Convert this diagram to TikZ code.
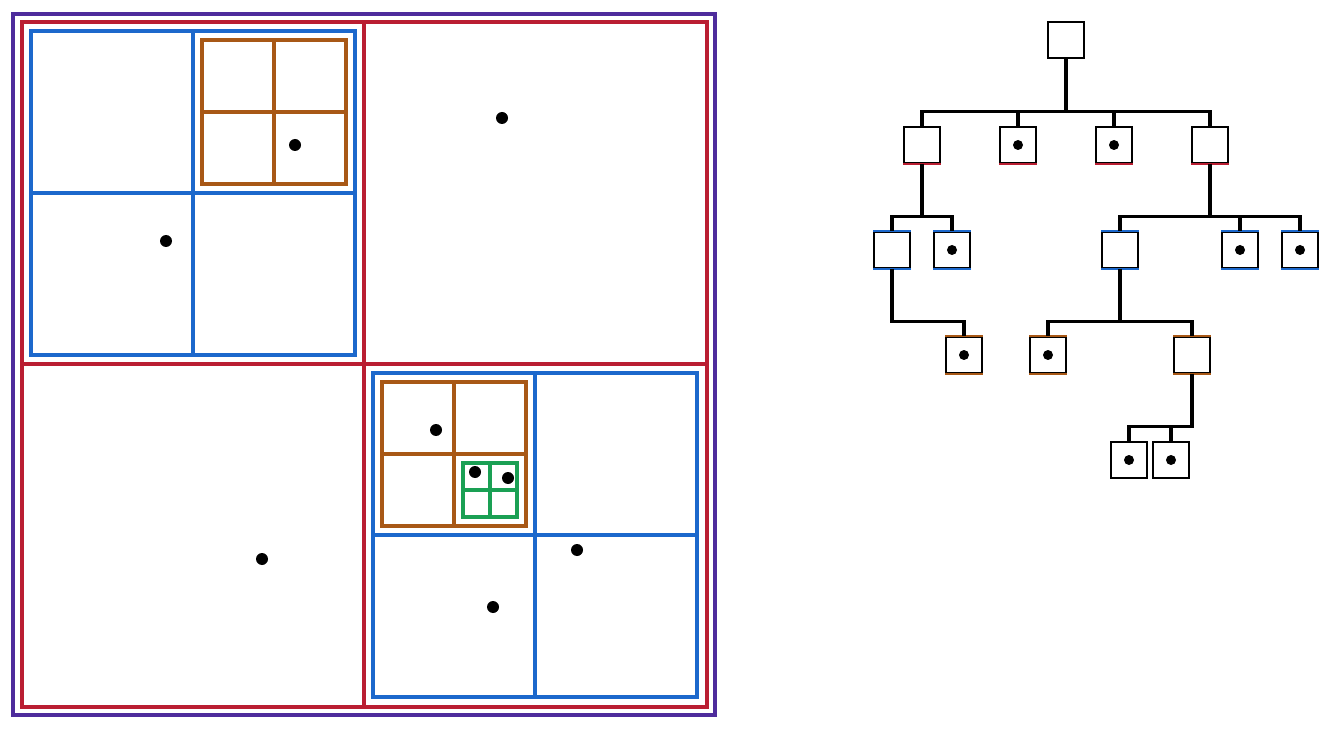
\documentclass[tikz,border=0pt]{standalone}
\usepackage{tikz}
\usetikzlibrary{positioning}
\usepackage{xcolor}

\definecolor{qpurple}{RGB}{78,44,156}
\definecolor{qred}{RGB}{186,30,50}
\definecolor{qblue}{RGB}{28,104,204}
\definecolor{qbrown}{RGB}{168,88,22}
\definecolor{qgreen}{RGB}{26,160,84}

\begin{document}
\begin{tikzpicture}[x=0.02cm,y=-0.02cm]
      \useasboundingbox (0,0) rectangle (1331,729);
      \tikzstyle{cell}=[line width=2pt]
      \tikzstyle{pt}=[fill=black]
      \tikzstyle{box}=[draw,rectangle,minimum size=0.72cm,inner sep=0pt,line width=0.9pt]
      \tikzstyle{dot}=[path picture={\fill (path picture bounding box.center) circle (0.1cm);}]
      \tikzstyle{link}=[line width=1.8pt]

      % quadtree
      \draw[cell,qpurple] (13,14) rectangle (715,715);
      \draw[cell,qred] (22,22) rectangle (707,707) (364,22) -- (364,707) (22,364) -- (707,364);
      \draw[cell,qblue] (31,31) rectangle (355,355) (193,31) -- (193,355) (31,193) -- (355,193);
      \draw[cell,qbrown] (202,40) rectangle (346,184) (274,40) -- (274,184) (202,112) -- (346,112);
      \draw[cell,qblue] (373,373) rectangle (697,697) (535,373) -- (535,697) (373,535) -- (697,535);
      \draw[cell,qbrown] (382,382) rectangle (526,526) (454,382) -- (454,526) (382,454) -- (526,454);
      \draw[cell,qgreen] (463,463) rectangle (517,517) (490,463) -- (490,517) (463,490) -- (517,490);
      \foreach \px/\py in {295/145, 166/241, 502/118, 262/559, 436/430, 475/472, 508/478, 577/550, 493/607}
        \fill[pt] (\px,\py) circle (0.12cm);

      % tree
      \node[box] (r) at (1066,40) {};

      \node[box] (a) at (922,145) {};
      \node[box,dot] (b) at (1018,145) {};
      \node[box,dot] (c) at (1114,145) {};
      \node[box] (d) at (1210,145) {};

      \node[box] (aa) at (892,250) {};
      \node[box,dot] (ab) at (952,250) {};
      \node[box] (da) at (1120,250) {};
      \node[box,dot] (db) at (1240,250) {};
      \node[box,dot] (dc) at (1300,250) {};

      \node[box,dot] (aaa) at (964,355) {};
      \node[box,dot] (daa) at (1048,355) {};
      \node[box] (dab) at (1192,355) {};

      \node[box,dot] (daba) at (1129,460) {};
      \node[box,dot] (dabb) at (1171,460) {};

      % coloured edges of the boxes
      \foreach \n in {a,b,c,d}
        \draw[qred,line width=0.9pt] (\n.south west) -- (\n.south east);
      \foreach \n in {aa,ab,da,db,dc}
        \draw[qblue,line width=0.9pt] (\n.south west) -- (\n.south east) (\n.north west) -- (\n.north east);
      \foreach \n in {aaa,daa,dab}
        \draw[qbrown,line width=0.9pt] (\n.south west) -- (\n.south east) (\n.north west) -- (\n.north east);

      % links
      \foreach \p/\c in {r/a, r/b, r/c, r/d, a/aa, a/ab, d/da, d/db, d/dc, aa/aaa, da/daa, da/dab, dab/daba, dab/dabb}
        \draw[link] (\p.south) |- ([yshift=0.3cm]\c.north) -- (\c.north);
\end{tikzpicture}
\end{document}
